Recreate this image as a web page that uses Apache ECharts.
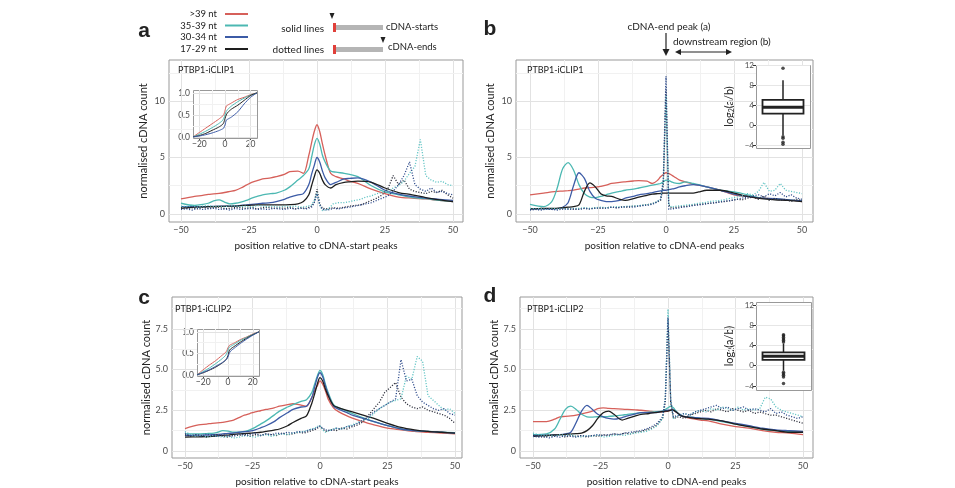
<!DOCTYPE html>
<html>
<head>
<meta charset="utf-8">
<script src="https://cdn.jsdelivr.net/npm/echarts@6.0.0/dist/echarts.min.js"></script>
<style>
  html, body { margin: 0; padding: 0; background: #fff; }
  #chart { width: 955px; height: 488px; }
</style>
</head>
<body>
<div id="chart"></div>
<script>
// x positions (nt relative to peak)
const xSolid = [-50,-45,-42,-40,-38,-36,-34,-32,-30,-28,-26,-24,-22,-20,-17,-15,-12,-10,-7,-5,-3,-2,-1,0,1,2,3,5,7,10,12,15,20,25,30,35,40,45,50];
const xDot = [-50,-48,-46,-44,-42,-40,-38,-36,-34,-32,-30,-28,-26,-24,-22,-20,-18,-16,-14,-12,-10,-8,-6,-4,-2,-1,0,1,2,4,6,8,10,12,14,16,18,20,22,24,26,28,30,32,34,36,38,40,42,44,46,48,50];
const xInset = [-25,-20,-15,-10,-5,-2,-1,0,1,2,5,10,15,20,25];

// panel a: PTBP1-iCLIP1, cDNA-start peaks
const aRed   = [1.33,1.55,1.65,1.74,1.78,1.83,1.9,2.0,2.1,2.3,2.55,2.8,2.95,3.1,3.2,3.3,3.5,3.75,3.8,3.6,5.2,6.3,7.3,7.9,7.3,6.2,5.2,3.6,3.3,3.1,2.9,2.7,2.2,1.8,1.5,1.4,1.33,1.2,1.1];
const aTeal  = [0.95,0.75,0.85,0.95,1.15,1.25,1.05,0.9,0.95,1.05,1.2,1.4,1.55,1.7,1.8,1.85,2.1,2.4,3.0,3.4,4.0,5.0,6.1,6.7,6.2,5.2,4.6,3.8,3.7,3.6,3.5,3.3,2.5,1.95,1.7,1.45,1.35,1.2,1.1];
const aBlue  = [0.65,0.65,0.65,0.65,0.67,0.68,0.7,0.7,0.72,0.76,0.8,0.85,0.9,0.95,1.0,1.1,1.3,1.5,1.7,1.8,2.6,3.5,4.3,5.0,4.6,3.8,3.2,2.6,2.8,3.1,3.15,3.2,2.8,2.1,1.75,1.55,1.4,1.3,1.2];
const aBlack = [0.5,0.6,0.62,0.65,0.65,0.67,0.68,0.7,0.7,0.74,0.76,0.78,0.8,0.8,0.8,0.8,0.81,0.82,0.9,1.1,1.7,2.5,3.3,3.9,3.6,3.0,2.6,2.3,2.6,2.8,2.85,2.9,2.8,2.3,1.9,1.7,1.45,1.25,1.1];
const aBlackDot = [0.6,0.5,0.55,0.45,0.6,0.5,0.55,0.6,0.45,0.5,0.6,0.55,0.5,0.6,0.45,0.55,0.6,0.5,0.55,0.5,0.6,0.45,0.55,0.5,0.7, 1.0,2.2,0.9, 0.5,0.45,0.55,0.5,0.6,0.7,0.75,0.8,1.0,1.2,1.4,1.7,2.2,3.4,2.6,3.0,2.2,2.0,1.9,1.8,2.0,1.9,2.1,1.7,1.4];
const aTealDot  = [0.7,0.65,0.75,0.6,0.7,0.75,0.65,0.7,0.6,0.75,0.7,0.65,0.7,0.6,0.75,0.7,0.65,0.7,0.6,0.7,0.65,0.7,0.6,0.65,0.8, 1.2,1.9,0.8, 0.3,0.4,0.9,1.0,1.0,1.1,1.2,1.3,1.5,1.6,1.8,1.9,2.0,2.3,2.5,2.9,3.6,4.2,6.6,3.4,3.0,2.8,2.9,2.6,2.5];
const aBlueDot  = [0.4,0.45,0.35,0.5,0.4,0.45,0.5,0.4,0.45,0.35,0.5,0.4,0.45,0.5,0.4,0.45,0.4,0.5,0.45,0.4,0.5,0.45,0.5,0.45,0.6, 1.0,1.8,0.8, 0.4,0.35,0.5,0.45,0.55,0.6,0.7,0.8,0.9,1.0,1.2,1.4,1.6,2.0,2.6,3.4,4.6,2.6,2.2,2.0,2.3,1.9,2.0,1.8,1.7];
const aInRed   = [0,0.1,0.2,0.3,0.4,0.47,0.5,0.6,0.7,0.72,0.77,0.85,0.9,0.96,1.0];
const aInTeal  = [0,0.06,0.13,0.21,0.3,0.37,0.42,0.5,0.58,0.62,0.7,0.8,0.88,0.95,1.0];
const aInBlue  = [0,0.02,0.05,0.09,0.14,0.18,0.2,0.27,0.38,0.4,0.45,0.57,0.75,0.9,1.0];
const aInBlack = [0,0.03,0.08,0.15,0.22,0.28,0.32,0.42,0.5,0.55,0.63,0.72,0.83,0.94,1.0];

// panel b: PTBP1-iCLIP1, cDNA-end peaks
const bRed   = [1.7,1.85,1.95,2.0,2.03,2.07,2.12,2.2,2.3,2.33,2.37,2.45,2.55,2.7,2.8,2.85,2.92,2.95,2.9,2.7,3.0,3.3,3.5,3.65,3.6,3.45,3.3,3.0,2.85,2.65,2.55,2.4,2.1,1.7,1.55,1.4,1.33,1.25,1.1];
const bTeal  = [0.85,0.65,1.1,2.3,4.0,4.55,3.9,2.6,1.8,1.5,1.45,1.55,1.7,1.85,2.0,2.1,2.2,2.3,2.45,2.55,2.65,2.7,2.85,3.0,2.95,2.85,2.75,2.7,2.85,2.7,2.6,2.4,2.1,1.95,1.7,1.4,1.33,1.25,1.15];
const bBlue  = [0.45,0.45,0.45,0.47,0.6,1.0,2.5,3.65,3.15,2.0,1.4,1.2,1.1,1.1,1.2,1.4,1.55,1.7,1.8,1.9,2.0,2.05,2.1,2.1,2.15,2.2,2.25,2.4,2.5,2.6,2.55,2.4,2.1,1.75,1.55,1.4,1.35,1.25,1.15];
const bBlack = [0.45,0.5,0.5,0.5,0.55,0.6,0.65,0.8,2.0,2.75,2.4,1.8,1.6,1.55,1.3,1.2,1.35,1.5,1.65,1.75,1.8,1.82,1.85,1.85,1.85,1.85,1.85,1.85,1.85,1.85,1.95,2.1,2.1,1.85,1.55,1.35,1.25,1.2,1.1];
const bBlackDot = [0.45,0.4,0.5,0.45,0.4,0.5,0.45,0.5,0.4,0.45,0.5,0.45,0.55,0.5,0.55,0.6,0.55,0.65,0.6,0.7,0.7,0.8,0.85,1.0,1.2, 2.5,11.0,0.8, 0.5,0.6,0.65,0.7,0.8,0.85,0.9,0.95,1.0,1.1,1.1,1.2,1.3,1.25,1.4,1.5,1.3,1.6,1.2,1.4,1.2,1.3,1.1,1.3,1.2];
const bTealDot  = [0.5,0.45,0.5,0.4,0.5,0.45,0.5,0.45,0.5,0.5,0.55,0.5,0.55,0.6,0.55,0.6,0.65,0.6,0.7,0.7,0.75,0.8,0.85,1.0,1.3, 2.8,10.5,0.9, 0.6,0.7,0.75,0.8,0.85,0.95,1.0,1.1,1.15,1.2,1.3,1.4,1.5,1.6,1.8,1.7,2.0,2.8,2.0,2.1,2.7,2.1,2.0,1.9,1.8];
const bBlueDot  = [0.35,0.4,0.35,0.45,0.4,0.35,0.45,0.4,0.45,0.4,0.5,0.45,0.5,0.55,0.5,0.6,0.55,0.6,0.65,0.6,0.7,0.75,0.8,0.95,1.3, 3.0,12.2,0.4, 0.45,0.5,0.6,0.65,0.75,0.8,0.85,0.95,1.0,1.05,1.15,1.2,1.3,1.4,1.5,1.6,1.7,1.5,1.8,1.6,1.9,1.5,1.7,1.4,1.3];
const bBox = [-1.9, 2.4, 3.7, 5.15, 9.1];   // min, q1, median, q3, max of log2(a/b)
const bOut = [11.5, -2.2, -2.5, -3.3, -3.7];

// panel c: PTBP1-iCLIP2, cDNA-start peaks
const cRed   = [1.38,1.6,1.65,1.7,1.72,1.76,1.82,1.9,2.05,2.2,2.3,2.4,2.47,2.55,2.65,2.75,2.85,2.9,2.82,2.75,3.3,3.7,4.0,4.3,4.1,3.7,3.2,2.65,2.4,2.15,2.02,1.85,1.6,1.4,1.3,1.2,1.15,1.1,1.05];
const cTeal  = [1.05,1.05,1.07,1.08,1.15,1.25,1.22,1.15,1.15,1.2,1.3,1.45,1.65,1.85,2.2,2.45,2.7,2.85,3.05,3.15,3.6,4.1,4.6,4.95,4.7,4.1,3.6,2.85,2.65,2.45,2.3,2.1,1.8,1.55,1.35,1.25,1.2,1.15,1.12];
const cBlue  = [0.95,0.97,0.98,1.0,1.02,1.05,1.08,1.1,1.15,1.18,1.22,1.3,1.42,1.55,1.8,2.05,2.35,2.55,2.7,2.75,3.3,3.9,4.5,4.8,4.55,4.0,3.5,2.75,2.55,2.35,2.2,2.05,1.8,1.55,1.35,1.25,1.2,1.15,1.1];
const cBlack = [0.85,0.87,0.88,0.9,0.93,0.96,0.98,1.02,1.05,1.07,1.09,1.12,1.15,1.2,1.28,1.35,1.55,1.75,2.0,2.15,2.95,3.5,4.1,4.5,4.3,3.8,3.4,2.8,2.65,2.5,2.4,2.25,2.0,1.7,1.45,1.3,1.2,1.15,1.1];
const cBlackDot = [1.0,0.9,1.0,0.95,0.85,0.95,1.0,0.9,0.85,1.0,0.95,1.05,0.9,1.0,0.95,1.05,1.0,0.95,1.1,1.0,1.05,1.15,1.1,1.2,1.3, 1.4,1.5,1.35, 1.2,1.3,1.25,1.4,1.35,1.5,1.6,1.8,2.2,2.6,3.0,3.6,3.9,4.2,3.3,2.9,2.7,2.6,2.7,2.5,2.4,2.3,2.2,2.0,1.7];
const cTealDot  = [1.2,1.0,0.9,1.0,0.85,0.95,0.9,0.85,0.9,0.8,0.85,0.95,0.9,0.85,0.95,1.0,0.9,1.0,1.05,1.0,1.1,1.15,1.2,1.3,1.4, 1.5,1.55,1.3, 1.15,1.3,1.4,1.35,1.5,1.6,1.75,1.9,2.0,2.3,2.6,2.8,3.0,3.1,3.2,4.6,4.4,5.8,5.5,3.4,3.1,2.8,2.5,2.6,2.3];
const cBlueDot  = [1.1,0.95,1.0,0.9,1.05,0.95,0.9,1.0,0.95,0.9,1.05,0.95,1.0,1.1,0.95,1.05,1.0,1.1,1.05,1.15,1.1,1.2,1.15,1.3,1.35, 1.45,1.55,1.4, 1.3,1.25,1.4,1.35,1.5,1.55,1.7,1.9,2.1,2.4,2.6,2.8,3.0,3.2,5.6,4.3,4.4,3.4,3.0,2.8,2.6,2.5,2.6,2.3,2.2];
const cInRed   = [0,0.12,0.23,0.33,0.45,0.52,0.56,0.63,0.68,0.7,0.74,0.82,0.88,0.95,1.0];
const cInTeal  = [0,0.08,0.16,0.26,0.37,0.45,0.5,0.58,0.64,0.66,0.71,0.8,0.87,0.94,1.0];
const cInBlue  = [0,0.06,0.12,0.2,0.28,0.34,0.37,0.42,0.5,0.55,0.62,0.73,0.83,0.92,1.0];
const cInBlack = [0,0.05,0.11,0.18,0.27,0.34,0.38,0.45,0.56,0.6,0.66,0.76,0.85,0.93,1.0];

// panel d: PTBP1-iCLIP2, cDNA-end peaks
const dRed   = [1.8,1.8,1.95,2.1,2.12,2.15,2.2,2.28,2.35,2.45,2.6,2.65,2.62,2.6,2.57,2.55,2.52,2.5,2.45,2.4,2.4,2.4,2.42,2.45,2.5,2.5,2.4,2.15,2.05,1.95,1.9,1.85,1.65,1.5,1.4,1.25,1.15,1.1,1.0];
const dTeal  = [1.0,1.05,1.35,1.95,2.55,2.75,2.55,2.25,2.1,2.08,2.1,2.1,2.12,2.15,2.2,2.25,2.3,2.35,2.38,2.4,2.43,2.45,2.55,2.65,2.75,2.65,2.45,2.15,2.1,2.05,2.0,1.95,1.8,1.65,1.5,1.35,1.25,1.2,1.15];
const dBlue  = [0.95,0.97,0.98,1.0,1.05,1.15,1.75,2.45,2.8,2.55,2.25,2.1,2.0,1.95,2.05,2.15,2.28,2.35,2.35,2.35,2.4,2.45,2.48,2.5,2.5,2.5,2.4,2.15,2.1,2.05,2.02,2.0,1.85,1.7,1.55,1.4,1.3,1.25,1.2];
const dBlack = [0.9,0.95,0.98,1.0,1.02,1.04,1.06,1.1,1.25,1.55,2.0,2.35,2.45,2.25,1.9,2.0,2.15,2.25,2.3,2.35,2.4,2.42,2.45,2.45,2.5,2.5,2.4,2.15,2.08,2.0,1.98,1.95,1.85,1.65,1.5,1.35,1.25,1.15,1.15];
const dBlackDot = [0.95,0.9,0.85,0.95,0.9,1.0,0.85,0.95,0.9,0.95,0.85,0.95,0.9,1.0,0.95,1.05,1.0,1.1,1.05,1.15,1.2,1.3,1.4,1.6,2.0, 3.0,8.0,3.0, 2.0,2.1,2.0,2.2,2.3,2.4,2.5,2.4,2.6,2.5,2.4,2.6,2.5,2.4,2.5,2.3,2.4,2.3,2.2,2.2,2.1,2.0,1.9,1.8,1.7];
const dBlueDot  = [0.9,0.85,0.9,0.8,0.9,0.85,0.95,0.9,0.85,0.95,0.9,0.95,1.0,0.95,1.0,1.05,1.0,1.1,1.15,1.2,1.25,1.35,1.5,1.7,2.1, 3.2,8.2,3.1, 2.1,2.2,2.3,2.2,2.4,2.5,2.6,2.7,2.8,2.6,2.7,2.5,2.6,2.7,2.5,2.6,2.5,2.4,2.6,2.3,2.4,2.2,2.1,2.0,2.1];
const dTealDot  = [1.1,1.0,0.95,1.0,0.9,1.0,0.95,1.0,0.9,0.85,0.95,0.9,1.0,0.85,0.9,0.95,1.0,0.95,1.05,1.1,1.15,1.2,1.35,1.55,2.0, 3.3,8.7,3.2, 2.0,2.2,2.3,2.2,2.4,2.5,2.4,2.6,2.5,2.7,2.6,2.5,2.7,2.5,2.6,2.5,2.6,3.3,3.2,2.7,2.5,2.4,2.3,2.2,2.1];
const dBox = [-1.0, 1.14, 1.9, 2.66, 4.4];
const dOut = [4.7, 5.0, 5.3, 5.6, 5.9, 6.1, -1.3, -1.6, -1.9, -2.2, -3.5];

// ticks and grid breaks
const xTicks = [-50, -25, 0, 25, 50];
const xBreaks = [-50, -37.5, -25, -12.5, 0, 12.5, 25, 37.5, 50];
const yTicks1 = [0, 5, 10];
const yBreaks1 = [0, 2.5, 5, 7.5, 10, 12.5];
const yTicks2 = [0, 2.5, 5, 7.5];
const yBreaks2 = [0, 1.25, 2.5, 3.75, 5, 6.25, 7.5, 8.75];
const inXTicks = [-20, 0, 20];
const inXBreaks = [-20, -10, 0, 10, 20];
const inYTicks = [0, 0.5, 1];
const inYBreaks = [0, 0.25, 0.5, 0.75, 1];
const boxTicks = [-4, 0, 4, 8, 12];

const FONT = 'Lato';
const RED = '#d6605a', TEAL = '#4cb8b2', BLUE = '#3c5ba6', BLACK = '#1e1e1e';
const TEAL_DOT = '#5ec3c3', BLUE_DOT = '#2f4c8c', BLACK_DOT = '#2b2d3a';

const minus = v => String(v).replace('-', '\u2212');
const pairs = (xs, ys) => xs.map((x, i) => [x, ys[i]]);

const grids = [
    {left: 169, top: 60, width: 294, height: 162},   // a
    {left: 516, top: 60, width: 297, height: 162},   // b
    {left: 172, top: 297, width: 290, height: 162},  // c
    {left: 520, top: 297, width: 293, height: 162},  // d
    {left: 193, top: 90, width: 64, height: 48},     // a inset
    {left: 197, top: 329, width: 62, height: 47},    // c inset
    {left: 756, top: 65, width: 54, height: 83},     // b box
    {left: 756, top: 302, width: 55, height: 88}     // d box
];

const panels = [
    {g: 0, x: [-54.41, 53.68], y: [-0.71, 13.63], yt: yTicks1, yb: yBreaks1, fmt: v => String(v), name: 'position relative to cDNA-start peaks',
     solid: [aRed, aTeal, aBlue, aBlack], dots: [aBlackDot, aTealDot, aBlueDot]},
    {g: 1, x: [-55.15, 54.04], y: [-0.71, 13.63], yt: yTicks1, yb: yBreaks1, fmt: v => String(v), name: 'position relative to cDNA-end peaks',
     solid: [bRed, bTeal, bBlue, bBlack], dots: [bBlackDot, bTealDot, bBlueDot]},
    {g: 2, x: [-54.81, 52.59], y: [-0.43, 9.45], yt: yTicks2, yb: yBreaks2, fmt: v => v === 0 ? '0' : v.toFixed(1), name: 'position relative to cDNA-start peaks',
     solid: [cRed, cTeal, cBlue, cBlack], dots: [cBlackDot, cTealDot, cBlueDot]},
    {g: 3, x: [-54.81, 53.7], y: [-0.43, 9.45], yt: yTicks2, yb: yBreaks2, fmt: v => v === 0 ? '0' : v.toFixed(1), name: 'position relative to cDNA-end peaks',
     solid: [dRed, dTeal, dBlue, dBlack], dots: [dBlackDot, dTealDot, dBlueDot]}
];
const insets = [
    {g: 4, lines: [aInRed, aInTeal, aInBlack, aInBlue]},
    {g: 5, lines: [cInRed, cInTeal, cInBlack, cInBlue]}
];
const boxes = [
    {g: 6, y: [-4.46, 12.14], box: bBox, out: bOut, w: 41},
    {g: 7, y: [-4.79, 12.59], box: dBox, out: dOut, w: 42}
];

const xAxes = [], yAxes = [], series = [];
const tickStyle = {color: '#333', width: 1};
const labelStyle = {fontFamily: FONT, color: '#4d4d4d'};

function gridLines(xb, yb, major, z) {
    return {
        silent: true, symbol: 'none', z: z, animation: false,
        label: {show: false}, emphasis: {disabled: true},
        data: [
            ...xb.map(v => ({xAxis: v, lineStyle: {color: major.x.includes(v) ? '#e2e2e2' : '#f1f1f1', width: 1, type: 'solid'}})),
            ...yb.map(v => ({yAxis: v, lineStyle: {color: major.y.includes(v) ? '#e2e2e2' : '#f1f1f1', width: 1, type: 'solid'}}))
        ]
    };
}

panels.forEach(p => {
    const ai = xAxes.length;
    xAxes.push({
        gridIndex: p.g, type: 'value', min: p.x[0], max: p.x[1],
        axisLine: {show: false}, splitLine: {show: false},
        axisTick: {show: true, customValues: xTicks, length: 4, lineStyle: tickStyle},
        axisLabel: {customValues: xTicks, formatter: minus, fontSize: 9, margin: 4, ...labelStyle},
        name: p.name, nameLocation: 'middle', nameGap: 19,
        nameTextStyle: {fontFamily: FONT, fontSize: 10, color: '#222'}
    });
    yAxes.push({
        gridIndex: p.g, type: 'value', min: p.y[0], max: p.y[1],
        axisLine: {show: false}, splitLine: {show: false},
        axisTick: {show: true, customValues: p.yt, length: 4, lineStyle: tickStyle},
        axisLabel: {customValues: p.yt, formatter: p.fmt, fontSize: 9, margin: 4, ...labelStyle},
        name: 'normalised cDNA count', nameLocation: 'middle', nameGap: 20,
        nameTextStyle: {fontFamily: FONT, fontSize: 11, color: '#222'}
    });
    const colors = [RED, TEAL, BLUE, BLACK];
    p.solid.forEach((ys, k) => {
        const s = {
            type: 'line', xAxisIndex: ai, yAxisIndex: ai, data: pairs(xSolid, ys),
            showSymbol: false, smooth: 0.3, clip: true, animation: false,
            lineStyle: {color: colors[k], width: 1.3}, emphasis: {disabled: true}
        };
        if (k === 0) s.markLine = gridLines(xBreaks, p.yb, {x: xTicks, y: p.yt}, 1);
        series.push(s);
    });
    const dcolors = [BLACK_DOT, TEAL_DOT, BLUE_DOT];
    p.dots.forEach((ys, k) => {
        series.push({
            type: 'line', xAxisIndex: ai, yAxisIndex: ai, data: pairs(xDot, ys),
            showSymbol: false, clip: true, animation: false,
            lineStyle: {color: dcolors[k], width: 1.3, type: [1.1, 1.6]}, emphasis: {disabled: true}
        });
    });
});

insets.forEach(p => {
    const ai = xAxes.length;
    xAxes.push({
        gridIndex: p.g, type: 'value', min: -25, max: 25,
        axisLine: {show: false}, splitLine: {show: false},
        axisTick: {show: true, customValues: inXTicks, length: 3, lineStyle: tickStyle},
        axisLabel: {customValues: inXTicks, formatter: minus, fontSize: 8.5, margin: 2, ...labelStyle}
    });
    yAxes.push({
        gridIndex: p.g, type: 'value', min: -0.025, max: 1.065,
        axisLine: {show: false}, splitLine: {show: false},
        axisTick: {show: true, customValues: inYTicks, length: 3, lineStyle: tickStyle},
        axisLabel: {customValues: inYTicks, formatter: v => v.toFixed(1), fontSize: 8.5, margin: 3, ...labelStyle}
    });
    const colors = [RED, TEAL, BLACK, BLUE];
    p.lines.forEach((ys, k) => {
        const s = {
            type: 'line', xAxisIndex: ai, yAxisIndex: ai, data: pairs(xInset, ys), z: 4,
            showSymbol: false, smooth: 0.2, animation: false,
            lineStyle: {color: colors[k], width: 1}, emphasis: {disabled: true}
        };
        if (k === 0) s.markLine = gridLines(inXBreaks, inYBreaks, {x: inXTicks, y: inYTicks}, 3);
        series.push(s);
    });
});

boxes.forEach(p => {
    const ai = xAxes.length;
    const b = p.box;
    xAxes.push({
        gridIndex: p.g, type: 'category', data: ['all'],
        axisLine: {show: false}, axisTick: {show: false}, axisLabel: {show: false}, splitLine: {show: false}
    });
    yAxes.push({
        gridIndex: p.g, type: 'value', min: p.y[0], max: p.y[1],
        axisLine: {show: false}, splitLine: {show: false},
        axisTick: {show: true, customValues: boxTicks, length: 3, lineStyle: tickStyle},
        axisLabel: {customValues: boxTicks, formatter: minus, fontSize: 8, margin: 2, ...labelStyle},
        name: '{t|log}{s|2}{t|(a/b)}', nameLocation: 'middle', nameGap: 21,
        nameTextStyle: {fontFamily: FONT, fontSize: 11, color: '#222',
            rich: {t: {fontFamily: FONT, fontSize: 11, color: '#222'},
                   s: {fontFamily: FONT, fontSize: 7, color: '#222', padding: [5, 0, 0, 0]}}}
    });
    const common = {xAxisIndex: ai, yAxisIndex: ai, animation: false, emphasis: {disabled: true}, z: 4};
    // whiskers
    series.push({...common, type: 'line', data: [[0, b[0]], [0, b[1]]], showSymbol: false,
        lineStyle: {color: '#222', width: 1.5},
        markLine: {silent: true, symbol: 'none', z: 3, animation: false, label: {show: false},
            data: boxTicks.map(v => ({yAxis: v})), lineStyle: {color: '#e6e6e6', width: 1, type: 'solid'}}});
    series.push({...common, type: 'line', data: [[0, b[3]], [0, b[4]]], showSymbol: false,
        lineStyle: {color: '#222', width: 1.5}});
    // box
    series.push({...common, type: 'boxplot', boxWidth: [p.w, p.w],
        data: [[b[1], b[1], b[2], b[3], b[3]]],
        itemStyle: {color: '#fff', borderColor: '#222', borderWidth: 1.8}});
    // thick median
    series.push({...common, type: 'custom', z: 5, data: [[0, b[2]]], encode: {x: 0, y: 1},
        renderItem: (params, api) => {
            const c = api.coord([api.value(0), api.value(1)]);
            return {type: 'line', shape: {x1: c[0] - p.w / 2, y1: c[1], x2: c[0] + p.w / 2, y2: c[1]},
                style: {stroke: '#222', lineWidth: 3}};
        }});
    // outliers
    series.push({...common, type: 'scatter', z: 5, data: p.out.map(v => [0, v]),
        symbolSize: 3.5, itemStyle: {color: '#222'}});
});

const txt = (text, x, y, size, align, extra) => ({
    type: 'text', x: x, y: y, z: 10, silent: true,
    style: Object.assign({text: text, fill: '#222', font: size + 'px ' + FONT, align: align || 'left', verticalAlign: 'middle'}, extra || {})
});
const seg = (x1, y1, x2, y2, color, w) => ({
    type: 'line', z: 10, silent: true, shape: {x1: x1, y1: y1, x2: x2, y2: y2}, style: {stroke: color, lineWidth: w}
});
const tri = (pts) => ({type: 'polygon', z: 10, silent: true, shape: {points: pts}, style: {fill: '#222'}});
const box = (x, y, w, h, fill, stroke, z) => ({
    type: 'rect', z: z, silent: true, shape: {x: x, y: y, width: w, height: h},
    style: {fill: fill, stroke: stroke || null, lineWidth: stroke ? 1 : 0}
});

const graphic = [
    // inset backgrounds
    box(193.5, 90.5, 64, 48, '#fff', '#999', 2),
    box(197.5, 329.5, 62, 47, '#fff', '#999', 2),
    box(756.5, 65.5, 54, 83, '#fff', '#999', 2),
    box(756.5, 302.5, 55, 88, '#fff', '#999', 2),
    // panel letters
    txt('a', 144, 31, 21, 'center', {font: 'bold 21px "Liberation Sans"'}),
    txt('b', 490, 29, 21, 'center', {font: 'bold 21px "Liberation Sans"'}),
    txt('c', 144, 298, 21, 'center', {font: 'bold 21px "Liberation Sans"'}),
    txt('d', 490, 296, 21, 'center', {font: 'bold 21px "Liberation Sans"'}),
    // panel titles
    txt('PTBP1-iCLIP1', 178, 70, 9),
    txt('PTBP1-iCLIP1', 527, 70, 9),
    txt('PTBP1-iCLIP2', 175, 309, 9),
    txt('PTBP1-iCLIP2', 527, 309, 9),
    // legend
    txt('>39 nt', 217, 14, 9.5, 'right'),
    txt('35-39 nt', 217, 25.5, 9.5, 'right'),
    txt('30-34 nt', 217, 37, 9.5, 'right'),
    txt('17-29 nt', 217, 49, 9.5, 'right'),
    seg(225, 14, 248, 14, RED, 2),
    seg(225, 25.5, 248, 25.5, TEAL, 2),
    seg(225, 37, 248, 37, BLUE, 2),
    seg(225, 49, 248, 49, BLACK, 2),
    txt('solid lines', 324, 29, 10, 'right'),
    txt('dotted lines', 324, 50, 10, 'right'),
    box(336, 25, 47, 5, '#b5b5b5', null, 10),
    box(336, 47, 47, 5, '#b5b5b5', null, 10),
    box(333, 23, 3, 9, '#e0403a', null, 11),
    box(333, 45, 3, 9, '#e0403a', null, 11),
    txt('cDNA-starts', 386, 27, 9.5),
    txt('cDNA-ends', 388, 47, 9.5),
    tri([[329.5, 13], [334.5, 13], [332, 19]]),
    tri([[380.5, 37], [385.5, 37], [383, 43]]),
    // panel b annotation
    txt('cDNA-end peak (a)', 669, 27, 10, 'center'),
    seg(666, 33, 666, 51, '#222', 1.2),
    tri([[662.5, 49], [669.5, 49], [666, 56]]),
    txt('downstream region (b)', 673, 42, 10),
    seg(678, 52, 729, 52, '#222', 1.2),
    tri([[675, 52], [681, 49], [681, 55]]),
    tri([[732, 52], [726, 49], [726, 55]])
];

const chart = echarts.init(document.getElementById('chart'));
chart.setOption({
    animation: false,
    backgroundColor: '#fff',
    textStyle: {fontFamily: FONT},
    grid: grids.map((g, i) => Object.assign({}, g, i < 4
        ? {show: true, borderColor: '#999', borderWidth: 1, backgroundColor: 'transparent'}
        : {show: false})),
    xAxis: xAxes,
    yAxis: yAxes,
    series: series,
    graphic: graphic
});
</script>
</body>
</html>
